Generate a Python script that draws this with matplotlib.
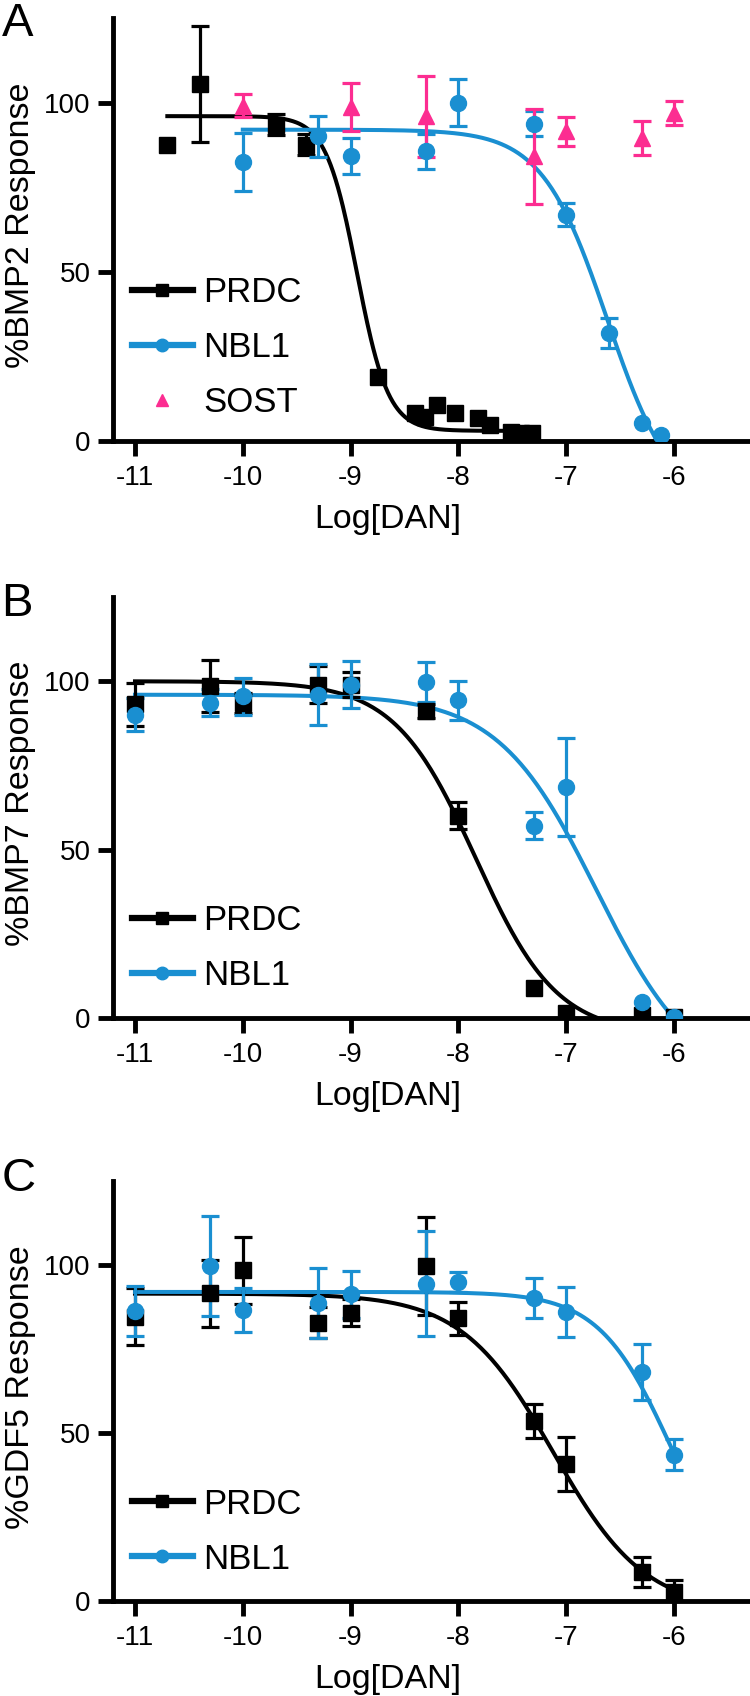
from typing import *

import numpy as np
import matplotlib
matplotlib.use("Agg")
import matplotlib.pyplot as plt
from matplotlib.lines import Line2D

plt.rcParams["font.family"] = ["Liberation Sans", "DejaVu Sans"]

BLACK = "black"
BLUE = "#1a8fd1"
PINK = "#fc2d91"

# --- panel A: BMP2 ---
A_PRDC_X = [-10.70, -10.40, -9.69, -9.41, -8.75, -8.40, -8.31, -8.20, -8.03, -7.82, -7.71, -7.51, -7.42, -7.32]
A_PRDC_Y = [87.6, 105.5, 93.5, 87.6, 19.0, 8.3, 7.2, 10.6, 8.3, 6.8, 4.7, 2.8, 2.4, 2.4]
A_PRDC_ERR = [0, 17.2, 3.0, 3.0, 0, 0, 0, 0, 0, 0, 0, 0, 0, 0]
A_PRDC_FIT = (96.0, 3.0, -8.94, 3.0)  # top, bottom, logIC50, hill

A_NBL1_X = [-10.0, -9.3, -9.0, -8.3, -8.0, -7.3, -7.0, -6.6, -6.3, -6.12]
A_NBL1_Y = [82.4, 90.0, 84.3, 85.6, 100.0, 93.8, 66.9, 31.9, 5.2, 1.8]
A_NBL1_ERR = [8.5, 6.0, 5.3, 5.2, 7.0, 3.7, 3.5, 4.5, 0, 0]
A_NBL1_FIT = (92.0, -20.0, -6.62, 1.43)

A_SOST_X = [-10.0, -9.0, -8.3, -7.3, -7.0, -6.3, -6.0]
A_SOST_Y = [99.1, 98.7, 96.0, 84.1, 91.5, 89.5, 97.0]
A_SOST_ERR = [3.5, 7.0, 12.0, 14.0, 4.3, 5.0, 3.5]

# --- panel B: BMP7 ---
B_X = [-11.0, -10.3, -10.0, -9.3, -9.0, -8.3, -8.0, -7.3, -7.0, -6.3, -6.0]
B_PRDC_Y = [93.1, 98.5, 93.6, 99.0, 99.0, 91.1, 60.1, 8.8, 1.4, 0.9, 0.4]
B_PRDC_ERR = [6.3, 7.7, 3.0, 5.5, 3.7, 2.0, 4.0, 0, 0, 0, 0]
B_PRDC_FIT = (100.0, -5.0, -7.84, 1.15)

B_NBL1_Y = [90.1, 93.6, 95.6, 96.0, 99.0, 99.8, 94.3, 57.1, 68.6, 4.8, 0.3]
B_NBL1_ERR = [5.0, 4.0, 5.5, 9.0, 7.0, 6.0, 5.7, 4.0, 14.5, 0, 0]
B_NBL1_FIT = (96.0, -20.0, -6.72, 0.95)

# --- panel C: GDF5 ---
C_X = [-11.0, -10.3, -10.0, -9.3, -9.0, -8.3, -8.0, -7.3, -7.0, -6.3, -6.0]
C_PRDC_Y = [84.6, 91.6, 98.5, 82.9, 85.8, 99.7, 84.1, 53.5, 40.8, 8.7, 2.7]
C_PRDC_ERR = [8.5, 10.0, 10.0, 4.5, 4.0, 14.6, 5.0, 5.0, 8.0, 4.5, 3.5]
C_PRDC_FIT = (91.5, -3.0, -7.12, 1.02)

C_NBL1_Y = [86.4, 99.7, 86.7, 88.7, 91.3, 94.5, 95.0, 90.2, 86.0, 68.2, 43.6]
C_NBL1_ERR = [7.5, 14.8, 6.5, 10.5, 7.0, 15.7, 3.0, 6.0, 7.5, 8.4, 4.7]
C_NBL1_FIT = (92.0, 0.0, -6.03, 1.3)

X_TICKS = [-11, -10, -9, -8, -7, -6]
Y_TICKS = [0, 50, 100]


def logistic(x, fit):
    top, bottom, logIC50, hill = fit
    return bottom + (top - bottom) / (1 + 10 ** ((x - logIC50) * hill))


def plotSeries(ax, xs, ys, errs, color, marker, ms, fit=None):
    xs = np.asarray(xs)
    ys = np.asarray(ys)
    errs = np.asarray(errs)
    if fit is not None:
        xc = np.linspace(xs.min(), xs.max(), 300)
        ax.plot(xc, logistic(xc, fit), color=color, lw=2.9, zorder=2)
    m = errs > 0
    ax.errorbar(xs[m], ys[m], yerr=errs[m], fmt="none", ecolor=color,
                elinewidth=2.3, capsize=6.5, capthick=2.3, zorder=3)
    ax.plot(xs, ys, linestyle="none", marker=marker, ms=ms, color=color,
            mec=color, zorder=4)


def styleAxes(ax, ylabel):
    ax.set_xlim(-11.204, -5.314)
    ax.set_ylim(0, 125)
    ax.set_xticks(X_TICKS)
    ax.set_yticks(Y_TICKS)
    ax.set_xticklabels([str(t) for t in X_TICKS])
    for s in ["top", "right"]:
        ax.spines[s].set_visible(False)
    for s in ["left", "bottom"]:
        ax.spines[s].set_linewidth(3.5)
    ax.tick_params(width=3.5, length=11, labelsize=20, direction="out")
    ax.tick_params(axis="y", pad=5)
    ax.tick_params(axis="x", pad=6)
    ax.set_ylabel(ylabel, fontsize=24.5)
    ax.yaxis.set_label_coords(-0.122, 0.51)
    ax.set_xlabel("Log[DAN]", fontsize=24.5)
    ax.xaxis.set_label_coords(0.432, -0.15)


def addLegend(ax, entries, top):
    handles = []
    for label, color, marker, ms, line in entries:
        handles.append(Line2D([], [], color=color, marker=marker, ms=ms,
                              lw=4.5 if line else 0, label=label))
    ax.legend(handles=handles, loc="upper left", bbox_to_anchor=(0.03, top),
              frameon=False, fontsize=25, handlelength=1.75,
              handletextpad=0.3, labelspacing=0.63, borderpad=0,
              borderaxespad=0)


fig = plt.figure(figsize=(7.5, 16.96), dpi=100)
left, width = 113 / 750, 635 / 750
axA = fig.add_axes([left, 0.73998, width, 0.2494])
axB = fig.add_axes([left, 0.39976, width, 0.2482])
axC = fig.add_axes([left, 0.05601, width, 0.2476])

SQ, CI, TR = 11, 11.5, 11

plotSeries(axA, A_PRDC_X, A_PRDC_Y, A_PRDC_ERR, BLACK, "s", SQ, A_PRDC_FIT)
plotSeries(axA, A_NBL1_X, A_NBL1_Y, A_NBL1_ERR, BLUE, "o", CI, A_NBL1_FIT)
plotSeries(axA, A_SOST_X, A_SOST_Y, A_SOST_ERR, PINK, "^", TR)
styleAxes(axA, "%BMP2 Response")
addLegend(axA, [("PRDC", BLACK, "s", 9, True), ("NBL1", BLUE, "o", 9, True),
                ("SOST", PINK, "^", 9, False)], 0.39)

plotSeries(axB, B_X, B_PRDC_Y, B_PRDC_ERR, BLACK, "s", SQ, B_PRDC_FIT)
plotSeries(axB, B_X, B_NBL1_Y, B_NBL1_ERR, BLUE, "o", CI, B_NBL1_FIT)
styleAxes(axB, "%BMP7 Response")
addLegend(axB, [("PRDC", BLACK, "s", 9, True), ("NBL1", BLUE, "o", 9, True)], 0.27)

plotSeries(axC, C_X, C_PRDC_Y, C_PRDC_ERR, BLACK, "s", SQ, C_PRDC_FIT)
plotSeries(axC, C_X, C_NBL1_Y, C_NBL1_ERR, BLUE, "o", CI, C_NBL1_FIT)
styleAxes(axC, "%GDF5 Response")
addLegend(axC, [("PRDC", BLACK, "s", 9, True), ("NBL1", BLUE, "o", 9, True)], 0.27)

for letter, ypx in [("A", 2), ("B", 582), ("C", 1157)]:
    fig.text(0.002, 1 - ypx / 1696, letter, fontsize=34, va="top", ha="left")

fig.savefig("out.png", dpi=100)
